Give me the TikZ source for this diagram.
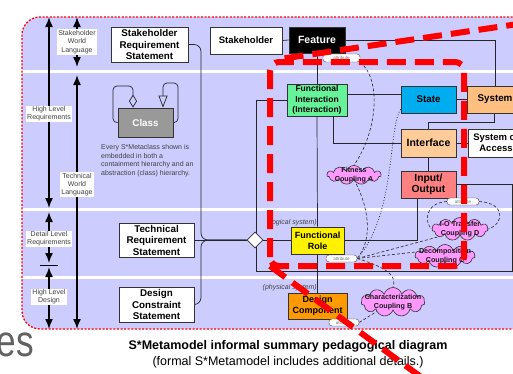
\documentclass[tikz,border=0pt]{standalone}
\usepackage{fontspec}
\setmainfont{Liberation Sans}
\usetikzlibrary{shapes.geometric,shapes.symbols,arrows.meta,calc}
\definecolor{lav}{HTML}{CCCCFF}
\definecolor{figreen}{HTML}{66F299}
\definecolor{sysorange}{HTML}{FFBF80}
\definecolor{ifpeach}{HTML}{FFCC99}
\definecolor{iosalmon}{HTML}{FF8080}
\definecolor{dcorange}{HTML}{FF9900}
\definecolor{cloudc}{HTML}{FF99FF}
\definecolor{classgray}{HTML}{999999}
\pgfdeclarelayer{bg}
\pgfdeclarelayer{fg}
\pgfsetlayers{bg,main,fg}
\begin{document}
\begin{tikzpicture}[x=1pt,y=-1pt,
  box/.style={draw=black!80, line width=0.8pt, align=center, inner sep=0pt, font=\bfseries\fontsize{9.8}{11.5}\selectfont},
  lbl/.style={fill=white, inner sep=1pt, align=center, text=black!75, font=\fontsize{7}{8.3}\selectfont},
  bigarrow/.style={line width=1.5pt, {Latex[length=10pt,width=8pt]}-{Latex[length=10pt,width=8pt]}},
  conn/.style={draw=black!85, line width=0.7pt},
  dcurve/.style={draw=black!85, line width=0.6pt, dash pattern=on 3pt off 2pt},
  dotc/.style={draw=black!85, line width=0.8pt, dash pattern=on 0.8pt off 2pt},
  pill/.style={draw=black!70, fill=white, rounded corners=3pt, inner sep=0pt, font=\fontsize{4.5}{5}\selectfont, text=black!55},
  cloudy/.style={cloud, cloud puffs=11, cloud ignores aspect, draw=black!80, line width=0.6pt, fill=cloudc, inner sep=0pt},
  cloudtxt/.style={font=\bfseries\fontsize{7.2}{8.3}\selectfont, align=center, text=black!90},
  reddash/.style={red, line width=6pt, dash pattern=on 19pt off 9pt},
  syslbl/.style={font=\itshape\fontsize{7}{8}\selectfont, text=black!75},
]
\useasboundingbox (0,0) rectangle (513,373);
\clip (0,0) rectangle (513,373);

% ---------- panel ----------
\begin{pgfonlayer}{bg}
\fill[lav, rounded corners=18pt] (22,17) rectangle (545,329);
\foreach \yy in {71,209,277} \draw[white, line width=3pt] (22,\yy) -- (545,\yy);
\draw[red, line width=1.3pt, dash pattern=on 2pt off 1.6pt, rounded corners=18pt] (545,17) -- (22,17) -- (22,329) -- (545,329);
\end{pgfonlayer}

% ---------- left arrows and labels ----------
\coordinate (a1t) at (49,17);  \coordinate (a1b) at (49,208);
\coordinate (a2t) at (49,212); \coordinate (a2b) at (49,263);
\coordinate (a3t) at (49,267); \coordinate (a3b) at (49,329);
\coordinate (b1t) at (77,17);  \coordinate (b1b) at (77,67);
\coordinate (b2t) at (77,75);  \coordinate (b2b) at (77,329);
\coordinate (tickl) at (40,265); \coordinate (tickr) at (58,265);
\draw[bigarrow] (a1t) -- (a1b);
\draw[bigarrow] (a2t) -- (a2b);
\draw[bigarrow] (a3t) -- (a3b);
\draw[bigarrow] (b1t) -- (b1b);
\draw[bigarrow] (b2t) -- (b2b);
\draw[line width=0.6pt] (tickl) -- (tickr);
\node[lbl] (lswl) at (77,42) {Stakeholder\\World\\Language};
\node[lbl] (lhlr) at (49,114) {High Level\\Requirements};
\node[lbl] (ltwl) at (77,184.5) {Technical\\World\\Language};
\node[lbl] (ldlr) at (49,239) {Detail Level\\Requirements};
\node[lbl] (lhld) at (49,297) {High Level\\Design};

% ---------- boxes ----------
\node[box, fill=white, minimum width=77, minimum height=35] (srs) at (149.5,44.5) {Stakeholder\\Requirement\\Statement};
\node[box, fill=white, minimum width=72, minimum height=27, font=\bfseries\fontsize{9.5}{11}\selectfont] (stk) at (246,40.5) {Stakeholder};
\node[box, fill=black, text=white, minimum width=56, minimum height=26, font=\bfseries\fontsize{10.5}{12}\selectfont] (feat) at (317,40) {Feature};
\node[pill, minimum width=37, minimum height=8] (attr1) at (341.5,58) {attribute};
\node[box, fill=classgray, text=white, minimum width=55, minimum height=29] (cls) at (145.5,122.5) {Class};
\node[box, fill=figreen, minimum width=60, minimum height=32, font=\bfseries\fontsize{8.5}{10.7}\selectfont] (fi) at (317,100) {Functional\\Interaction\\(Interaction)};
\node[box, fill=cyan, minimum width=55, minimum height=27] (state) at (428.5,99.5) {State};
\node[box, fill=sysorange, minimum width=56, minimum height=27] (sys) at (495,99.5) {System};
\node[box, fill=ifpeach, minimum width=55, minimum height=28, font=\bfseries\fontsize{10.5}{12}\selectfont] (iface) at (428.5,143) {Interface};
\node[box, fill=white, minimum width=56, minimum height=28, font=\bfseries\fontsize{9.5}{11}\selectfont] (soa) at (496,143) {System of\\Access};
\node[box, fill=iosalmon, minimum width=55, minimum height=27, font=\bfseries\fontsize{10.3}{11.5}\selectfont] (io) at (428.5,184.5) {Input/\\Output};
\node[box, fill=white, minimum width=75, minimum height=34] (trs) at (156.5,240) {Technical\\Requirement\\Statement};
\node[box, fill=white, minimum width=75, minimum height=35] (dcs) at (156.5,304.5) {Design\\Constraint\\Statement};
\node[diamond, draw=black!80, line width=0.8pt, fill=white, minimum width=16, minimum height=16, inner sep=0pt] (dia) at (255,240) {};
\node[box, fill=yellow, minimum width=53, minimum height=27, font=\bfseries\fontsize{9}{11}\selectfont] (fr) at (317.5,240.5) {Functional\\Role};
\node[box, fill=dcorange, minimum width=59, minimum height=26, font=\bfseries\fontsize{9}{11}\selectfont] (dc) at (317.5,306) {Design\\Component};
\node[pill, minimum width=31, minimum height=7] (attr2) at (341.5,258.5) {attribute};
\node[pill, minimum width=30, minimum height=7] (attr3) at (344,322.5) {attribute};
\node[pill, minimum width=32, minimum height=7] (attr4) at (463,201.5) {attribute};

% ---------- clouds ----------
\node[cloudy, minimum width=54, minimum height=19] (clA) at (354,175) {};
\node[cloudtxt] (clAt) at (clA.center) {Fitness\\Coupling A};
\node[cloudy, minimum width=56, minimum height=23] (clD) at (460,229) {};
\node[cloudtxt] (clDt) at (clD.center) {I-O Transfer\\Coupling D};
\node[cloudy, minimum width=60, minimum height=23] (clC) at (445,256) {};
\node[cloudtxt] (clCt) at (clC.center) {Decomposition\\Coupling C};
\node[cloudy, minimum width=64, minimum height=29] (clB) at (393,302) {};
\node[cloudtxt] (clBt) at (clB.center) {Characterization\\Coupling B};

% ---------- text ----------
\node[anchor=north west, align=left, text=black!75, font=\fontsize{7}{8.8}\selectfont, inner sep=0pt] (note) at (101,144) {Every S*Metaclass shown is\\embedded in both a\\containment hierarchy and an\\abstraction (class) hierarchy.};
\node[syslbl, anchor=east, inner sep=0pt] (lsys) at (317,223) {(logical system)};
\node[syslbl, anchor=east, inner sep=0pt] (psys) at (317,288) {(physical system)};

% ---------- connectors ----------
\coordinate (lsBL) at (256,271);
\coordinate (lsBR) at (512,271);
\coordinate (lsTR) at (512,184.5);
\coordinate (mrg) at (201,240);
\coordinate (aggA) at (113,86);
\coordinate (genA) at (178,83);
\begin{pgfonlayer}{bg}
\draw[conn] (stk.east) -- (feat.west);
\draw[conn] (feat.east) -| (sys.north);
\draw[conn] (feat.south) -- (fi.north);
\draw[conn] ([yshift=6pt]fi.east) -- ([yshift=5.5pt]state.west);
\draw[conn] (state.east) -- (sys.west);
\draw[conn] ([xshift=-1pt]sys.south) -- ++(0,9) -| (iface.north);
\draw[conn] (iface.east) -- (soa.west);
\draw[conn] ([xshift=16pt]fi.south) |- (iface.west);
\draw[conn] (fi.west) -| (lsBL) -- (lsBR) -- (lsTR) -- (io.east);
\draw[conn] (iface.south) -- (io.north);
\draw[conn] ([xshift=-11.5pt]io.south) |- (dia.east);
\draw[conn] (fi.south) -- (fr.north);
\draw[conn] (fr.south) -- (dc.north);
\draw[conn, rounded corners=7pt] (srs.east) -| (mrg) -- (dia.west);
\draw[conn, rounded corners=7pt] (dcs.east) -| (mrg) -- (dia.west);
\draw[conn] (trs.east) -- (dia.west);
\draw[conn, rounded corners=4pt, -{Diamond[open, length=13pt, width=8pt]}] (cls.west) -| (aggA) -| ([xshift=-12.5pt]cls.north);
\draw[conn, rounded corners=4pt, -{Triangle[open, length=12pt, width=9pt]}] (cls.east) -| (genA) -| ([xshift=17.5pt]cls.north);
\draw[dotc] ([yshift=4pt]state.south west) .. controls (388,128) and (396,215) .. (attr2.east);
\draw[dcurve] (attr1.south east) .. controls (382,80) and (377,132) .. (clA.north);
\draw[dcurve] (clA.south) .. controls (368,205) and (374,238) .. (attr2.east);
\draw[dcurve] (attr2.east) -- (clD.200);
\draw[dcurve] (attr2.east) -- (clC.172);
\draw[dcurve] (attr2.east) .. controls (388,268) and (397,276) .. (clB.north);
\draw[dcurve] (attr3.east) -- (clB.210);
\draw[dcurve] (attr4.west) .. controls (425,203) and (424,222) .. (clD.west);
\draw[dcurve] (attr4.east) .. controls (506,203) and (504,224) .. (clD.east);
\end{pgfonlayer}

% ---------- caption ----------
\node[font=\bfseries\fontsize{12.5}{14}\selectfont] (cap1) at (288,346) {S*Metamodel informal summary pedagogical diagram};
\node[font=\fontsize{12.5}{14}\selectfont] (cap2) at (288,362) {(formal S*Metamodel includes additional details.)};
\node[anchor=base east, text=black!62, font=\fontsize{44}{44}\selectfont, xscale=0.8, inner sep=0pt] (es) at (34,356) {es};

% ---------- red overlays ----------
\begin{pgfonlayer}{fg}
\coordinate (r1a) at (525,23);
\coordinate (r1b) at (280,59);
\draw[reddash] (r1a) -- (r1b);
\coordinate (rTL) at (270,62);
\coordinate (rTR) at (464,62);
\coordinate (rBR) at (464,266);
\coordinate (rBL) at (270,266);
\draw[reddash, rounded corners=9pt] (rBL) -- (rTL) -- (rTR) -- (rBR) -- cycle;
\coordinate (dEnd) at (440,391);
\draw[reddash] (rBL) -- (dEnd);
\end{pgfonlayer}
\end{tikzpicture}
\end{document}
